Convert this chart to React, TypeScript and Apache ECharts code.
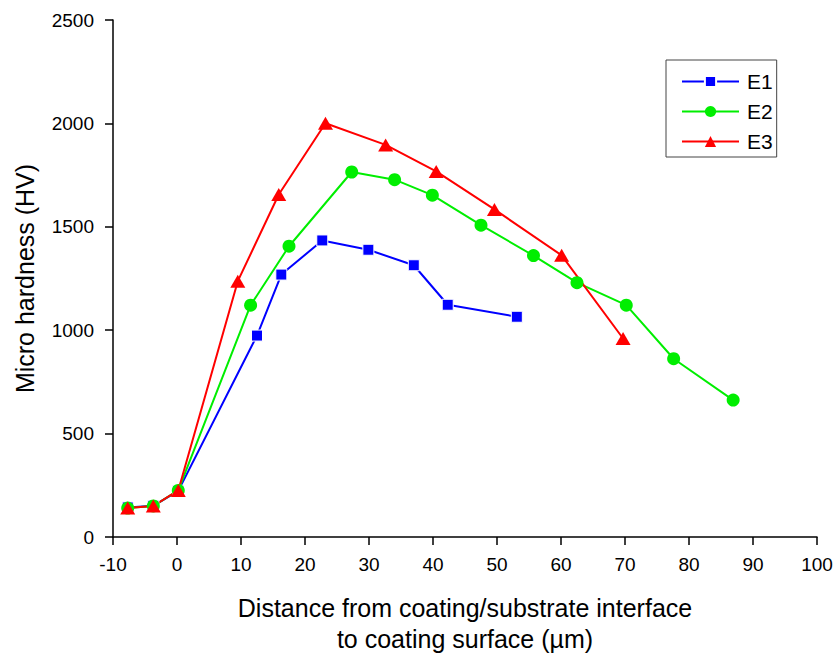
import React, { useEffect, useRef } from "react";
import * as echarts from "echarts";

const e1X = [-7.7, -3.7, 0.2, 12.5, 16.3, 22.7, 29.9, 37.0, 42.3, 53.1];
const e1Y = [143, 151, 223, 974, 1269, 1434, 1389, 1314, 1123, 1065];
const e2X = [-7.7, -3.7, 0.2, 11.5, 17.5, 27.3, 34.0, 39.9, 47.5, 55.7, 62.5, 70.2, 77.6, 86.9];
const e2Y = [140, 150, 225, 1121, 1406, 1765, 1728, 1653, 1508, 1361, 1230, 1121, 862, 662];
const e3X = [-7.7, -3.7, 0.2, 9.5, 15.9, 23.2, 32.6, 40.5, 49.6, 60.1, 69.7];
const e3Y = [140, 150, 225, 1237, 1656, 2001, 1896, 1768, 1584, 1362, 960];
const seriesNames = ["E1", "E2", "E3"];
const xTitle = "Distance from coating/substrate interface\nto coating surface (µm)";
const yTitle = "Micro hardness (HV)";

const zip = (xs: number[], ys: number[]) => xs.map((x, i) => [x, ys[i]]);

export default function App() {
  const ref = useRef<HTMLDivElement>(null);
  useEffect(() => {
    if (!ref.current) return;
    const chart = echarts.init(ref.current, undefined, { renderer: "svg" });
    const font = "Liberation Sans, Arial, Helvetica, sans-serif";
    const axisCommon = {
      axisLine: { show: true, onZero: false, lineStyle: { color: "#000", width: 1.5 } },
      axisTick: { show: true, inside: false, length: 8, lineStyle: { color: "#000", width: 1.5 } },
      splitLine: { show: false },
      axisLabel: { color: "#000", fontSize: 19, fontFamily: font, formatter: (v: number) => String(v) },
      nameTextStyle: { color: "#000", fontSize: 25, fontFamily: font },
    };
    chart.setOption({
      animation: false,
      backgroundColor: "#fff",
      grid: { left: 113, top: 20, right: 22, bottom: 117.5, containLabel: false },
      legend: {
        left: 666,
        top: 60,
        orient: "vertical",
        data: seriesNames,
        backgroundColor: "#fff",
        borderColor: "#444",
        borderWidth: 1,
        padding: [11, 4, 5, 15],
        itemWidth: 57,
        itemHeight: 14,
        itemGap: 9,
        textStyle: { color: "#000", fontSize: 21, fontFamily: font, lineHeight: 21, padding: [0, 0, 0, 3] },
      },
      xAxis: {
        type: "value",
        min: -10,
        max: 100,
        interval: 10,
        name: xTitle,
        nameLocation: "middle",
        nameGap: 55,
        ...axisCommon,
        nameTextStyle: { ...axisCommon.nameTextStyle, lineHeight: 31 },
        axisLabel: { ...axisCommon.axisLabel, margin: 18 },
      },
      yAxis: {
        type: "value",
        min: 0,
        max: 2500,
        interval: 500,
        name: yTitle,
        nameLocation: "middle",
        nameGap: 76,
        ...axisCommon,
        axisLabel: { ...axisCommon.axisLabel, margin: 19 },
      },
      series: [
        {
          name: "E1",
          type: "line",
          data: zip(e1X, e1Y),
          symbol: "rect",
          symbolSize: 11,
          lineStyle: { color: "#0000ff", width: 2 },
          itemStyle: { color: "#0000ff", borderColor: "#fff", borderWidth: 1 },
        },
        {
          name: "E2",
          type: "line",
          data: zip(e2X, e2Y),
          symbol: "circle",
          symbolSize: 13,
          lineStyle: { color: "#00ee00", width: 2 },
          itemStyle: { color: "#00ee00" },
        },
        {
          name: "E3",
          type: "line",
          data: zip(e3X, e3Y),
          symbol: "triangle",
          symbolSize: [15, 13],
          lineStyle: { color: "#ff0000", width: 2 },
          itemStyle: { color: "#ff0000" },
        },
      ],
    });
    return () => chart.dispose();
  }, []);
  return <div ref={ref} style={{ width: 839, height: 659, position: "absolute", left: 0, top: 0 }} />;
}
